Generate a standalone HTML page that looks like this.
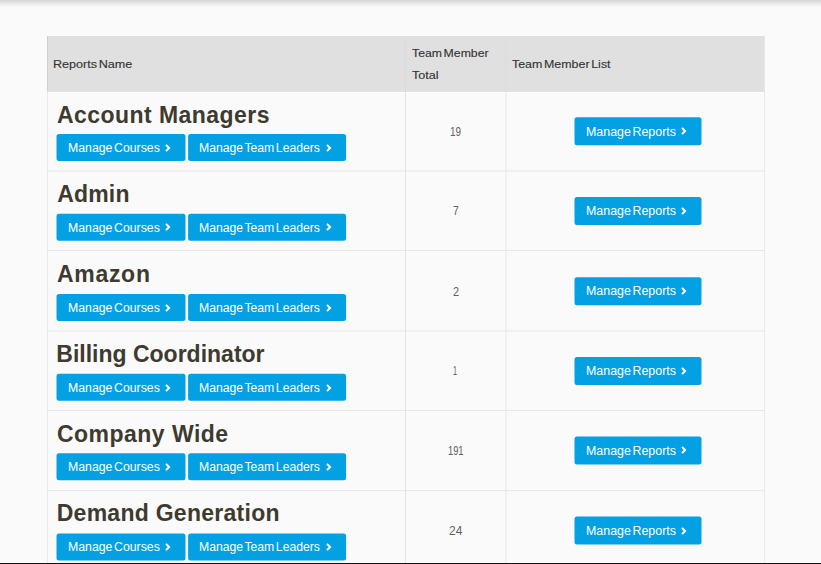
<!DOCTYPE html>
<html><head><meta charset="utf-8"><title>Reports</title>
<style>
*{box-sizing:border-box;margin:0;padding:0}
html,body{width:821px;height:564px;overflow:hidden;background:#fafafa;font-family:"Liberation Sans",sans-serif}
body{position:relative}
.a{position:absolute}
.t{position:absolute;white-space:nowrap;line-height:40px;height:40px;transform-origin:0 0}
.hdr{color:#333;font-size:12px;-webkit-text-stroke:0.12px #333}
.h2{color:#3e3a30;font-weight:700}
.btn{color:#fff;font-size:12px}
.num{color:#606060}
.b{position:absolute;background:#04a0e4;border-radius:2.5px;transform-origin:0 0}
svg{position:absolute;overflow:visible}
</style></head><body>
<div class="a" style="left:0;top:0;width:821px;height:8px;background:linear-gradient(#d5d5d5,#e8e8e8 40%,#f5f5f5 75%,#fafafa)"></div>
<div class="a" style="left:47px;top:36px;width:718px;height:56px;background:#e0e0e0;border-top:1px solid #dedede"></div>
<div class="a" style="left:47px;top:36px;width:1px;height:55px;background:#cfcfcf"></div>
<div class="a" style="left:405px;top:37px;width:1px;height:55px;background:#dbdbdb"></div>
<div class="a" style="left:505px;top:37px;width:2px;height:55px;background:#dedede"></div>
<div class="a" style="left:764px;top:36px;width:1px;height:56px;background:#e6e6e6"></div>
<div class="a" style="left:48px;top:92px;width:716px;height:1px;background:#fff"></div>
<div class="a" style="left:0;top:562px;width:821px;height:1px;background:#fff"></div>
<div class="a" style="left:47px;top:92px;width:1px;height:472px;background:#e9e9e9"></div>
<div class="a" style="left:405px;top:92px;width:1px;height:472px;background:#e2e2e2"></div>
<div class="a" style="left:505px;top:92px;width:2px;height:472px;background:#f0f0f0"></div>
<div class="a" style="left:764px;top:92px;width:1px;height:472px;background:#e9e9e9"></div>
<div class="a" style="left:47px;top:170px;width:718px;height:1px;background:#e6e6e6;transform:translateY(0.45px)"></div>
<div class="a" style="left:47px;top:250px;width:718px;height:1px;background:#e6e6e6;transform:translateY(0.00px)"></div>
<div class="a" style="left:47px;top:330px;width:718px;height:1px;background:#e6e6e6;transform:translateY(0.40px)"></div>
<div class="a" style="left:47px;top:410px;width:718px;height:1px;background:#e6e6e6;transform:translateY(0.00px)"></div>
<div class="a" style="left:47px;top:490px;width:718px;height:1px;background:#e6e6e6;transform:translateY(0.10px)"></div>
<div class="b" style="left:56px;top:134px;width:129.2px;height:27.4px;transform:translate(0.50px,0.10px)"></div>
<div class="b" style="left:188px;top:134px;width:158.1px;height:27.4px;transform:translate(0.10px,0.10px)"></div>
<div class="b" style="left:574px;top:117px;width:127.2px;height:27.6px;transform:translate(0.50px,0.30px)"></div>
<svg class="a" style="left:165.40px;top:143.80px" width="5.4" height="8" viewBox="0 0 5.4 8"><path d="M1 0.9 L4.1 4 L1 7.1" fill="none" stroke="#fff" stroke-width="2" stroke-linecap="butt" stroke-linejoin="miter"/></svg>
<svg class="a" style="left:325.90px;top:143.80px" width="5.4" height="8" viewBox="0 0 5.4 8"><path d="M1 0.9 L4.1 4 L1 7.1" fill="none" stroke="#fff" stroke-width="2" stroke-linecap="butt" stroke-linejoin="miter"/></svg>
<svg class="a" style="left:680.50px;top:127.30px" width="5.4" height="8" viewBox="0 0 5.4 8"><path d="M1 0.9 L4.1 4 L1 7.1" fill="none" stroke="#fff" stroke-width="2" stroke-linecap="butt" stroke-linejoin="miter"/></svg>
<div class="b" style="left:56px;top:213px;width:129.2px;height:27.4px;transform:translate(0.50px,0.70px)"></div>
<div class="b" style="left:188px;top:213px;width:158.1px;height:27.4px;transform:translate(0.10px,0.70px)"></div>
<div class="b" style="left:574px;top:196px;width:127.2px;height:27.6px;transform:translate(0.50px,0.90px)"></div>
<svg class="a" style="left:165.40px;top:223.40px" width="5.4" height="8" viewBox="0 0 5.4 8"><path d="M1 0.9 L4.1 4 L1 7.1" fill="none" stroke="#fff" stroke-width="2" stroke-linecap="butt" stroke-linejoin="miter"/></svg>
<svg class="a" style="left:325.90px;top:223.40px" width="5.4" height="8" viewBox="0 0 5.4 8"><path d="M1 0.9 L4.1 4 L1 7.1" fill="none" stroke="#fff" stroke-width="2" stroke-linecap="butt" stroke-linejoin="miter"/></svg>
<svg class="a" style="left:680.50px;top:206.90px" width="5.4" height="8" viewBox="0 0 5.4 8"><path d="M1 0.9 L4.1 4 L1 7.1" fill="none" stroke="#fff" stroke-width="2" stroke-linecap="butt" stroke-linejoin="miter"/></svg>
<div class="b" style="left:56px;top:294px;width:129.2px;height:27.4px;transform:translate(0.50px,0.00px)"></div>
<div class="b" style="left:188px;top:294px;width:158.1px;height:27.4px;transform:translate(0.10px,0.00px)"></div>
<div class="b" style="left:574px;top:277px;width:127.2px;height:27.6px;transform:translate(0.50px,0.20px)"></div>
<svg class="a" style="left:165.40px;top:303.70px" width="5.4" height="8" viewBox="0 0 5.4 8"><path d="M1 0.9 L4.1 4 L1 7.1" fill="none" stroke="#fff" stroke-width="2" stroke-linecap="butt" stroke-linejoin="miter"/></svg>
<svg class="a" style="left:325.90px;top:303.70px" width="5.4" height="8" viewBox="0 0 5.4 8"><path d="M1 0.9 L4.1 4 L1 7.1" fill="none" stroke="#fff" stroke-width="2" stroke-linecap="butt" stroke-linejoin="miter"/></svg>
<svg class="a" style="left:680.50px;top:287.20px" width="5.4" height="8" viewBox="0 0 5.4 8"><path d="M1 0.9 L4.1 4 L1 7.1" fill="none" stroke="#fff" stroke-width="2" stroke-linecap="butt" stroke-linejoin="miter"/></svg>
<div class="b" style="left:56px;top:373px;width:129.2px;height:27.4px;transform:translate(0.50px,0.80px)"></div>
<div class="b" style="left:188px;top:373px;width:158.1px;height:27.4px;transform:translate(0.10px,0.80px)"></div>
<div class="b" style="left:574px;top:357px;width:127.2px;height:27.6px;transform:translate(0.50px,0.00px)"></div>
<svg class="a" style="left:165.40px;top:383.50px" width="5.4" height="8" viewBox="0 0 5.4 8"><path d="M1 0.9 L4.1 4 L1 7.1" fill="none" stroke="#fff" stroke-width="2" stroke-linecap="butt" stroke-linejoin="miter"/></svg>
<svg class="a" style="left:325.90px;top:383.50px" width="5.4" height="8" viewBox="0 0 5.4 8"><path d="M1 0.9 L4.1 4 L1 7.1" fill="none" stroke="#fff" stroke-width="2" stroke-linecap="butt" stroke-linejoin="miter"/></svg>
<svg class="a" style="left:680.50px;top:367.00px" width="5.4" height="8" viewBox="0 0 5.4 8"><path d="M1 0.9 L4.1 4 L1 7.1" fill="none" stroke="#fff" stroke-width="2" stroke-linecap="butt" stroke-linejoin="miter"/></svg>
<div class="b" style="left:56px;top:453px;width:129.2px;height:27.4px;transform:translate(0.50px,0.20px)"></div>
<div class="b" style="left:188px;top:453px;width:158.1px;height:27.4px;transform:translate(0.10px,0.20px)"></div>
<div class="b" style="left:574px;top:436px;width:127.2px;height:27.6px;transform:translate(0.50px,0.40px)"></div>
<svg class="a" style="left:165.40px;top:462.90px" width="5.4" height="8" viewBox="0 0 5.4 8"><path d="M1 0.9 L4.1 4 L1 7.1" fill="none" stroke="#fff" stroke-width="2" stroke-linecap="butt" stroke-linejoin="miter"/></svg>
<svg class="a" style="left:325.90px;top:462.90px" width="5.4" height="8" viewBox="0 0 5.4 8"><path d="M1 0.9 L4.1 4 L1 7.1" fill="none" stroke="#fff" stroke-width="2" stroke-linecap="butt" stroke-linejoin="miter"/></svg>
<svg class="a" style="left:680.50px;top:446.40px" width="5.4" height="8" viewBox="0 0 5.4 8"><path d="M1 0.9 L4.1 4 L1 7.1" fill="none" stroke="#fff" stroke-width="2" stroke-linecap="butt" stroke-linejoin="miter"/></svg>
<div class="b" style="left:56px;top:533px;width:129.2px;height:27.4px;transform:translate(0.50px,0.40px)"></div>
<div class="b" style="left:188px;top:533px;width:158.1px;height:27.4px;transform:translate(0.10px,0.40px)"></div>
<div class="b" style="left:574px;top:516px;width:127.2px;height:27.6px;transform:translate(0.50px,0.60px)"></div>
<svg class="a" style="left:165.40px;top:543.10px" width="5.4" height="8" viewBox="0 0 5.4 8"><path d="M1 0.9 L4.1 4 L1 7.1" fill="none" stroke="#fff" stroke-width="2" stroke-linecap="butt" stroke-linejoin="miter"/></svg>
<svg class="a" style="left:325.90px;top:543.10px" width="5.4" height="8" viewBox="0 0 5.4 8"><path d="M1 0.9 L4.1 4 L1 7.1" fill="none" stroke="#fff" stroke-width="2" stroke-linecap="butt" stroke-linejoin="miter"/></svg>
<svg class="a" style="left:680.50px;top:526.60px" width="5.4" height="8" viewBox="0 0 5.4 8"><path d="M1 0.9 L4.1 4 L1 7.1" fill="none" stroke="#fff" stroke-width="2" stroke-linecap="butt" stroke-linejoin="miter"/></svg>
<div class="t hdr" style="left:52.76px;top:44.00px;font-size:11.6px;transform:scaleX(1.0854);word-spacing:-1.7px">Reports Name</div>
<div class="t hdr" style="left:412.06px;top:33.20px;font-size:11.6px;transform:scaleX(1.0581);word-spacing:-1.7px">Team Member</div>
<div class="t hdr" style="left:412.06px;top:54.90px;font-size:11.6px;transform:scaleX(1.0850);word-spacing:-1.7px">Total</div>
<div class="t hdr" style="left:512.00px;top:43.80px;font-size:11.6px;transform:scaleX(1.0717);word-spacing:-1.7px">Team Member List</div>
<div class="t h2" style="left:56.90px;top:94.60px;font-size:23px;letter-spacing:0.453px">Account Managers</div>
<div class="t h2" style="left:57.20px;top:174.00px;font-size:23px;letter-spacing:0.175px">Admin</div>
<div class="t h2" style="left:56.90px;top:254.00px;font-size:23px;letter-spacing:0.720px">Amazon</div>
<div class="t h2" style="left:56.30px;top:334.00px;font-size:23px">Billing Coordinator</div>
<div class="t h2" style="left:56.90px;top:414.00px;font-size:23px;letter-spacing:0.482px">Company Wide</div>
<div class="t h2" style="left:56.70px;top:493.30px;font-size:23px;letter-spacing:0.269px">Demand Generation</div>
<div class="t btn" style="left:67.63px;top:127.90px;font-size:12.2px;transform:scaleX(1.0084);word-spacing:-1.8px">Manage Courses</div>
<div class="t btn" style="left:198.90px;top:127.90px;font-size:12.2px;transform:scaleX(1.0008);word-spacing:-1.8px">Manage Team Leaders</div>
<div class="t btn" style="left:585.58px;top:111.50px;font-size:12.2px;transform:scaleX(1.0184);word-spacing:-1.8px">Manage Reports</div>
<div class="t btn" style="left:67.63px;top:207.50px;font-size:12.2px;transform:scaleX(1.0084);word-spacing:-1.8px">Manage Courses</div>
<div class="t btn" style="left:198.90px;top:207.50px;font-size:12.2px;transform:scaleX(1.0008);word-spacing:-1.8px">Manage Team Leaders</div>
<div class="t btn" style="left:585.58px;top:191.10px;font-size:12.2px;transform:scaleX(1.0184);word-spacing:-1.8px">Manage Reports</div>
<div class="t btn" style="left:67.63px;top:287.80px;font-size:12.2px;transform:scaleX(1.0084);word-spacing:-1.8px">Manage Courses</div>
<div class="t btn" style="left:198.90px;top:287.80px;font-size:12.2px;transform:scaleX(1.0008);word-spacing:-1.8px">Manage Team Leaders</div>
<div class="t btn" style="left:585.58px;top:271.40px;font-size:12.2px;transform:scaleX(1.0184);word-spacing:-1.8px">Manage Reports</div>
<div class="t btn" style="left:67.63px;top:367.60px;font-size:12.2px;transform:scaleX(1.0084);word-spacing:-1.8px">Manage Courses</div>
<div class="t btn" style="left:198.90px;top:367.60px;font-size:12.2px;transform:scaleX(1.0008);word-spacing:-1.8px">Manage Team Leaders</div>
<div class="t btn" style="left:585.58px;top:351.20px;font-size:12.2px;transform:scaleX(1.0184);word-spacing:-1.8px">Manage Reports</div>
<div class="t btn" style="left:67.63px;top:447.00px;font-size:12.2px;transform:scaleX(1.0084);word-spacing:-1.8px">Manage Courses</div>
<div class="t btn" style="left:198.90px;top:447.00px;font-size:12.2px;transform:scaleX(1.0008);word-spacing:-1.8px">Manage Team Leaders</div>
<div class="t btn" style="left:585.58px;top:430.60px;font-size:12.2px;transform:scaleX(1.0184);word-spacing:-1.8px">Manage Reports</div>
<div class="t btn" style="left:67.63px;top:527.20px;font-size:12.2px;transform:scaleX(1.0084);word-spacing:-1.8px">Manage Courses</div>
<div class="t btn" style="left:198.90px;top:527.20px;font-size:12.2px;transform:scaleX(1.0008);word-spacing:-1.8px">Manage Team Leaders</div>
<div class="t btn" style="left:585.58px;top:510.80px;font-size:12.2px;transform:scaleX(1.0184);word-spacing:-1.8px">Manage Reports</div>
<div class="t num" style="left:449.60px;top:111.65px;font-size:12.4px;transform:scaleX(0.8038);word-spacing:0px">19</div>
<div class="t num" style="left:452.60px;top:190.90px;font-size:12.4px;transform:scaleX(0.8286);word-spacing:0px">7</div>
<div class="t num" style="left:452.60px;top:271.80px;font-size:12.4px;transform:scaleX(0.8857);word-spacing:0px">2</div>
<div class="t num" style="left:453.32px;top:350.90px;font-size:12.4px;transform:scaleX(0.5833);word-spacing:0px">1</div>
<div class="t num" style="left:447.55px;top:430.70px;font-size:12.4px;transform:scaleX(0.7500);word-spacing:0px">191</div>
<div class="t num" style="left:448.90px;top:510.90px;font-size:12.4px;transform:scaleX(0.9643);word-spacing:0px">24</div>
<div class="a" style="left:0;top:563px;width:821px;height:1px;background:#111"></div>
</body></html>
